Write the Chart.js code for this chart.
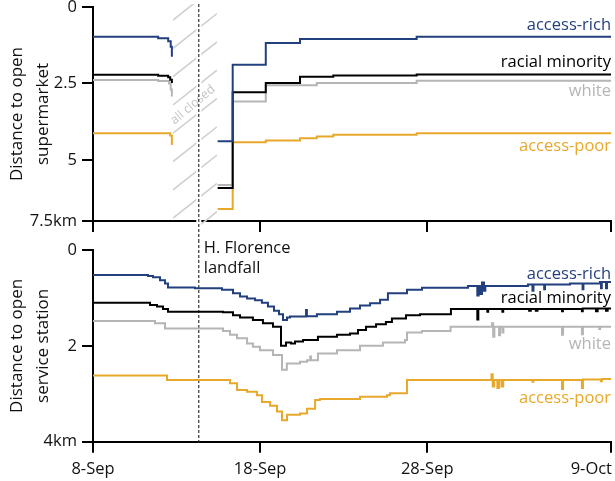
<!DOCTYPE html>
<html>
<head>
<meta charset="utf-8">
<script src="https://cdn.jsdelivr.net/npm/chart.js@4.4.1/dist/chart.umd.min.js"></script>
<style>
  html, body { margin: 0; padding: 0; background: #fff; }
  #wrap { position: relative; width: 615px; height: 481px; overflow: hidden; }
  canvas { position: absolute; left: 0; }
  #superChart { top: 0; }
  #stationChart { top: 240px; }
</style>
</head>
<body>
<div id="wrap">
  <canvas id="superChart" width="615" height="240"></canvas>
  <canvas id="stationChart" width="615" height="241"></canvas>
</div>
<script>
const FONT = '"Open Sans", sans-serif';

// x axis: days since 8-Sep
const dayTicks = [0, 10, 20, 31];
const dayLabels = ['8-Sep', '18-Sep', '28-Sep', '9-Oct'];
const landfallDay = 6.33;
const closedFrom = 4.79;
const closedTo = 7.42;

const groups = ['access-rich', 'racial minority', 'white', 'access-poor'];
const groupColors = ['#223f7e', '#000000', '#b5b5b5', '#e8a82b'];

const superTicks = [0, 2.5, 5, 7];
const superTickLabels = ['0', '2.5', '5', '7.5km'];
const stationTicks = [0, 2, 4];
const stationTickLabels = ['0', '2', '4km'];

// where the group names sit (km)
const superLabelKm = [0.6, 1.8, 2.75, 4.55];
const stationLabelKm = [0.5, 1.0, 1.96, 3.1];

// distance to open supermarket [day, km], null = all closed
const superRich = [[0, 0.97], [3.9, 1.02], [4.5, 1.12], [4.65, 1.3], [4.72, 1.63], [4.78, null],
  [7.46, 4.39], [8.36, 1.89], [10.34, 1.18], [12.39, 1.05], [19.37, 0.97], [31, 0.97]];
const superMinority = [[0, 2.22], [3.9, 2.25], [4.5, 2.3], [4.62, 2.38], [4.72, 2.49], [4.78, null],
  [7.46, 5.92], [8.36, 2.79], [10.34, 2.49], [12.39, 2.28], [14.38, 2.24], [19.37, 2.21], [31, 2.21]];
const superWhite = [[0, 2.39], [3.9, 2.42], [4.55, 2.5], [4.65, 2.7], [4.72, 2.93], [4.78, null],
  [7.46, 5.82], [8.36, 3.09], [10.34, 2.56], [13.39, 2.49], [19.37, 2.41], [31, 2.41]];
const superPoor = [[0, 4.13], [4.62, 4.2], [4.72, 4.51], [4.78, null],
  [7.46, 6.61], [8.36, 4.42], [10.34, 4.37], [12.39, 4.29], [13.39, 4.24], [14.38, 4.18], [19.37, 4.13], [31, 4.13]];

// distance to open service station [day, km]
const stationRich = [[0, 0.52], [3.29, 0.54], [3.59, 0.57], [4.01, 0.63], [4.31, 0.7], [4.49, 0.78],
  [6.1, 0.8], [7.72, 0.83], [8.38, 0.9], [8.8, 0.97], [9.22, 1.01], [9.7, 1.05], [10.11, 1.1],
  [10.47, 1.18], [10.83, 1.27], [11.13, 1.34], [11.37, 1.46], [11.61, 1.41], [11.79, 1.39],
  [12.75, 1.25], [12.8, 1.38], [13.4, 1.34], [14.6, 1.29], [15.38, 1.22], [15.98, 1.16],
  [16.58, 1.11], [17.18, 1.04], [17.65, 0.9], [18.79, 0.83], [19.69, 0.79], [22.44, 0.75],
  [23.0, 0.95], [23.08, 0.75], [23.2, 0.92], [23.28, 0.68], [23.4, 0.85], [23.48, 0.75],
  [26.03, 0.72], [26.3, 0.85], [26.36, 0.72], [27.0, 0.82], [27.05, 0.72], [28.55, 0.7],
  [29.3, 0.82], [29.35, 0.7], [30.34, 0.67], [30.4, 0.8], [30.45, 0.67], [30.7, 0.8], [30.76, 0.67], [31, 0.67]];
const stationMinority = [[0, 1.1], [3.41, 1.15], [3.83, 1.18], [4.19, 1.23], [4.49, 1.29], [7.78, 1.3],
  [8.38, 1.36], [8.8, 1.41], [9.57, 1.46], [10.17, 1.53], [10.77, 1.6], [11.25, 2.0], [11.55, 1.93],
  [11.85, 1.95], [12.09, 1.91], [12.57, 1.88], [13.46, 1.81], [14.6, 1.77], [15.38, 1.74],
  [15.86, 1.67], [16.34, 1.6], [16.94, 1.55], [17.53, 1.5], [17.89, 1.43], [18.73, 1.36],
  [19.57, 1.34], [21.42, 1.23], [23.0, 1.45], [23.06, 1.23], [23.6, 1.29], [23.65, 1.23],
  [24.5, 1.29], [24.55, 1.23], [26.1, 1.27], [26.2, 1.23], [26.5, 1.27], [26.6, 1.23],
  [28.07, 1.28], [28.12, 1.23], [29.26, 1.28], [29.31, 1.22], [30.1, 1.28], [30.2, 1.22],
  [30.7, 1.27], [30.8, 1.22], [31, 1.22]];
const stationWhite = [[0, 1.48], [3.71, 1.53], [4.31, 1.64], [7.78, 1.69], [8.2, 1.77], [8.62, 1.84],
  [9.22, 1.95], [9.57, 2.02], [9.99, 2.09], [10.77, 2.19], [11.31, 2.5], [11.6, 2.37], [12.39, 2.33],
  [12.81, 2.3], [13.0, 2.22], [13.05, 2.3], [13.46, 2.16], [14.6, 2.09], [15.98, 2.0], [17.35, 1.93],
  [18.67, 1.88], [18.79, 1.72], [19.69, 1.69], [21.4, 1.6], [23.88, 1.53], [23.95, 1.81],
  [24.02, 1.6], [24.3, 1.78], [24.36, 1.6], [24.5, 1.72], [24.56, 1.6], [28.07, 1.77],
  [28.13, 1.6], [29.26, 1.76], [29.32, 1.6], [30.3, 1.65], [30.35, 1.6], [31, 1.6]];
const stationPoor = [[0, 2.62], [4.43, 2.71], [8.2, 2.78], [8.62, 2.92], [9.22, 2.96], [9.81, 3.03],
  [10.11, 3.17], [10.6, 3.25], [11.01, 3.37], [11.31, 3.55], [11.61, 3.44], [12.39, 3.41],
  [12.81, 3.31], [13.29, 3.13], [13.58, 3.11], [15.98, 3.06], [17.59, 3.03], [17.77, 2.99],
  [18.79, 2.71], [23.85, 2.59], [23.92, 2.85], [24.0, 2.71], [24.2, 2.88], [24.3, 2.71],
  [24.45, 2.85], [24.55, 2.71], [26.3, 2.75], [26.35, 2.71], [28.07, 2.9], [28.13, 2.71],
  [29.26, 2.88], [29.32, 2.7], [30.4, 2.74], [30.45, 2.69], [31, 2.69]];

function toPoints(rows) {
  return rows.map(([d, km]) => ({ x: d, y: km }));
}

function makeDatasets(series) {
  return series.map((rows, i) => ({
    label: groups[i],
    data: toPoints(rows),
    borderColor: groupColors[i],
    borderWidth: 2,
    stepped: true,
    pointRadius: 0,
    spanGaps: false
  }));
}

const axisGrid = { drawOnChartArea: false, drawTicks: true, tickLength: 11, color: '#000', lineWidth: 2 };
const axisBorder = { display: true, color: '#000', width: 2 };

function xScale(height) {
  return {
    type: 'linear', min: 0, max: 31,
    afterBuildTicks: s => { s.ticks = dayTicks.map(v => ({ value: v })); },
    ticks: { display: false },
    grid: axisGrid,
    border: axisBorder,
    afterFit: s => { s.height = height; s.paddingLeft = 0; s.paddingRight = 0; }
  };
}

function yScale(max, tickVals, tickLabels, title) {
  return {
    type: 'linear', reverse: true, min: 0, max: max,
    afterBuildTicks: s => { s.ticks = tickVals.map(v => ({ value: v })); },
    ticks: {
      callback: (v, i) => tickLabels[i],
      padding: 5, color: '#111', autoSkip: false,
      font: { size: 16.5, family: FONT }
    },
    grid: axisGrid,
    border: axisBorder,
    title: {
      display: true, text: title, color: '#111',
      font: { size: 17, family: FONT, lineHeight: 1.55 },
      padding: { top: 4, bottom: 0 }
    },
    afterFit: s => { s.width = 93; s.paddingTop = 0; s.paddingBottom = 0; }
  };
}

function groupNames(labelKm) {
  return {
    id: 'groupNames',
    afterDatasetsDraw(chart) {
      const { ctx, chartArea, scales: { y } } = chart;
      ctx.save();
      ctx.font = '16.5px ' + FONT;
      ctx.textAlign = 'right';
      ctx.textBaseline = 'middle';
      groups.forEach((g, i) => {
        ctx.fillStyle = groupColors[i];
        ctx.fillText(g, chartArea.right, y.getPixelForValue(labelKm[i]));
      });
      ctx.restore();
    }
  };
}

function dashedLine(ctx, px, y0, y1) {
  ctx.save();
  ctx.strokeStyle = '#333';
  ctx.lineWidth = 1.2;
  ctx.setLineDash([3, 2]);
  ctx.beginPath();
  ctx.moveTo(px, y0);
  ctx.lineTo(px, y1);
  ctx.stroke();
  ctx.restore();
}

// hatched "all closed" band + landfall line in the top panel
const superDecor = {
  id: 'superDecor',
  beforeDatasetsDraw(chart) {
    const { ctx, chartArea: a, scales: { x, y } } = chart;
    const x0 = x.getPixelForValue(closedFrom);
    const x1 = x.getPixelForValue(closedTo);
    const lx = x.getPixelForValue(landfallDay);
    ctx.save();
    ctx.beginPath();
    ctx.rect(x0, a.top - 3, x1 - x0, a.bottom - a.top + 9);
    ctx.clip();
    ctx.strokeStyle = '#d0d0d0';
    ctx.lineWidth = 1.6;
    for (let y0 = a.top + 13; y0 < a.bottom + 60; y0 += 28.3) {
      ctx.beginPath();
      ctx.moveTo(x0, y0);
      ctx.lineTo(x1, y0 - 0.79 * (x1 - x0));
      ctx.stroke();
    }
    ctx.restore();

    ctx.save();
    ctx.fillStyle = '#fff';
    ctx.fillRect(lx - 2.5, a.top - 3, 5, a.bottom - a.top + 9);
    ctx.translate(x.getPixelForValue(5.98), y.getPixelForValue(3.2));
    ctx.rotate(-40 * Math.PI / 180);
    ctx.font = '12.5px ' + FONT;
    ctx.fillStyle = '#c4c4c4';
    ctx.textAlign = 'center';
    ctx.textBaseline = 'middle';
    ctx.fillText('all closed', 0, 0);
    ctx.restore();

    dashedLine(ctx, lx, a.top - 3, chart.height);
  }
};

const stationDecor = {
  id: 'stationDecor',
  beforeDatasetsDraw(chart) {
    const { ctx, chartArea: a, scales: { x } } = chart;
    const lx = x.getPixelForValue(landfallDay);
    dashedLine(ctx, lx, 0, a.bottom);
    ctx.save();
    ctx.font = '16.5px ' + FONT;
    ctx.fillStyle = '#111';
    ctx.textAlign = 'left';
    ctx.textBaseline = 'middle';
    ctx.fillText('H. Florence', lx + 5, a.top - 2);
    ctx.fillText('landfall', lx + 5, a.top + 18);
    ctx.restore();
  },
  afterDraw(chart) {
    const { ctx, chartArea: a, scales: { x } } = chart;
    ctx.save();
    ctx.font = '16.5px ' + FONT;
    ctx.fillStyle = '#111';
    ctx.textBaseline = 'middle';
    dayTicks.forEach((d, i) => {
      const last = i === dayTicks.length - 1;
      ctx.textAlign = last ? 'right' : 'center';
      ctx.fillText(dayLabels[i], last ? a.right + 1 : x.getPixelForValue(d), a.bottom + 27.6);
    });
    ctx.restore();
  }
};

function baseOptions(padTop, xHeight, y) {
  return {
    responsive: false,
    animation: false,
    devicePixelRatio: 1,
    layout: { padding: { top: padTop, right: 4, left: 0, bottom: 0 } },
    plugins: { legend: { display: false }, tooltip: { enabled: false } },
    scales: { x: xScale(xHeight), y: y }
  };
}

new Chart(document.getElementById('superChart'), {
  type: 'line',
  data: { datasets: makeDatasets([superRich, superMinority, superWhite, superPoor]) },
  options: baseOptions(7, 19, yScale(7, superTicks, superTickLabels, ['Distance to open', 'supermarket'])),
  plugins: [superDecor, groupNames(superLabelKm)]
});

new Chart(document.getElementById('stationChart'), {
  type: 'line',
  data: { datasets: makeDatasets([stationRich, stationMinority, stationWhite, stationPoor]) },
  options: baseOptions(10, 39.3, yScale(4, stationTicks, stationTickLabels, ['Distance to open', 'service station'])),
  plugins: [stationDecor, groupNames(stationLabelKm)]
});
</script>
</body>
</html>
